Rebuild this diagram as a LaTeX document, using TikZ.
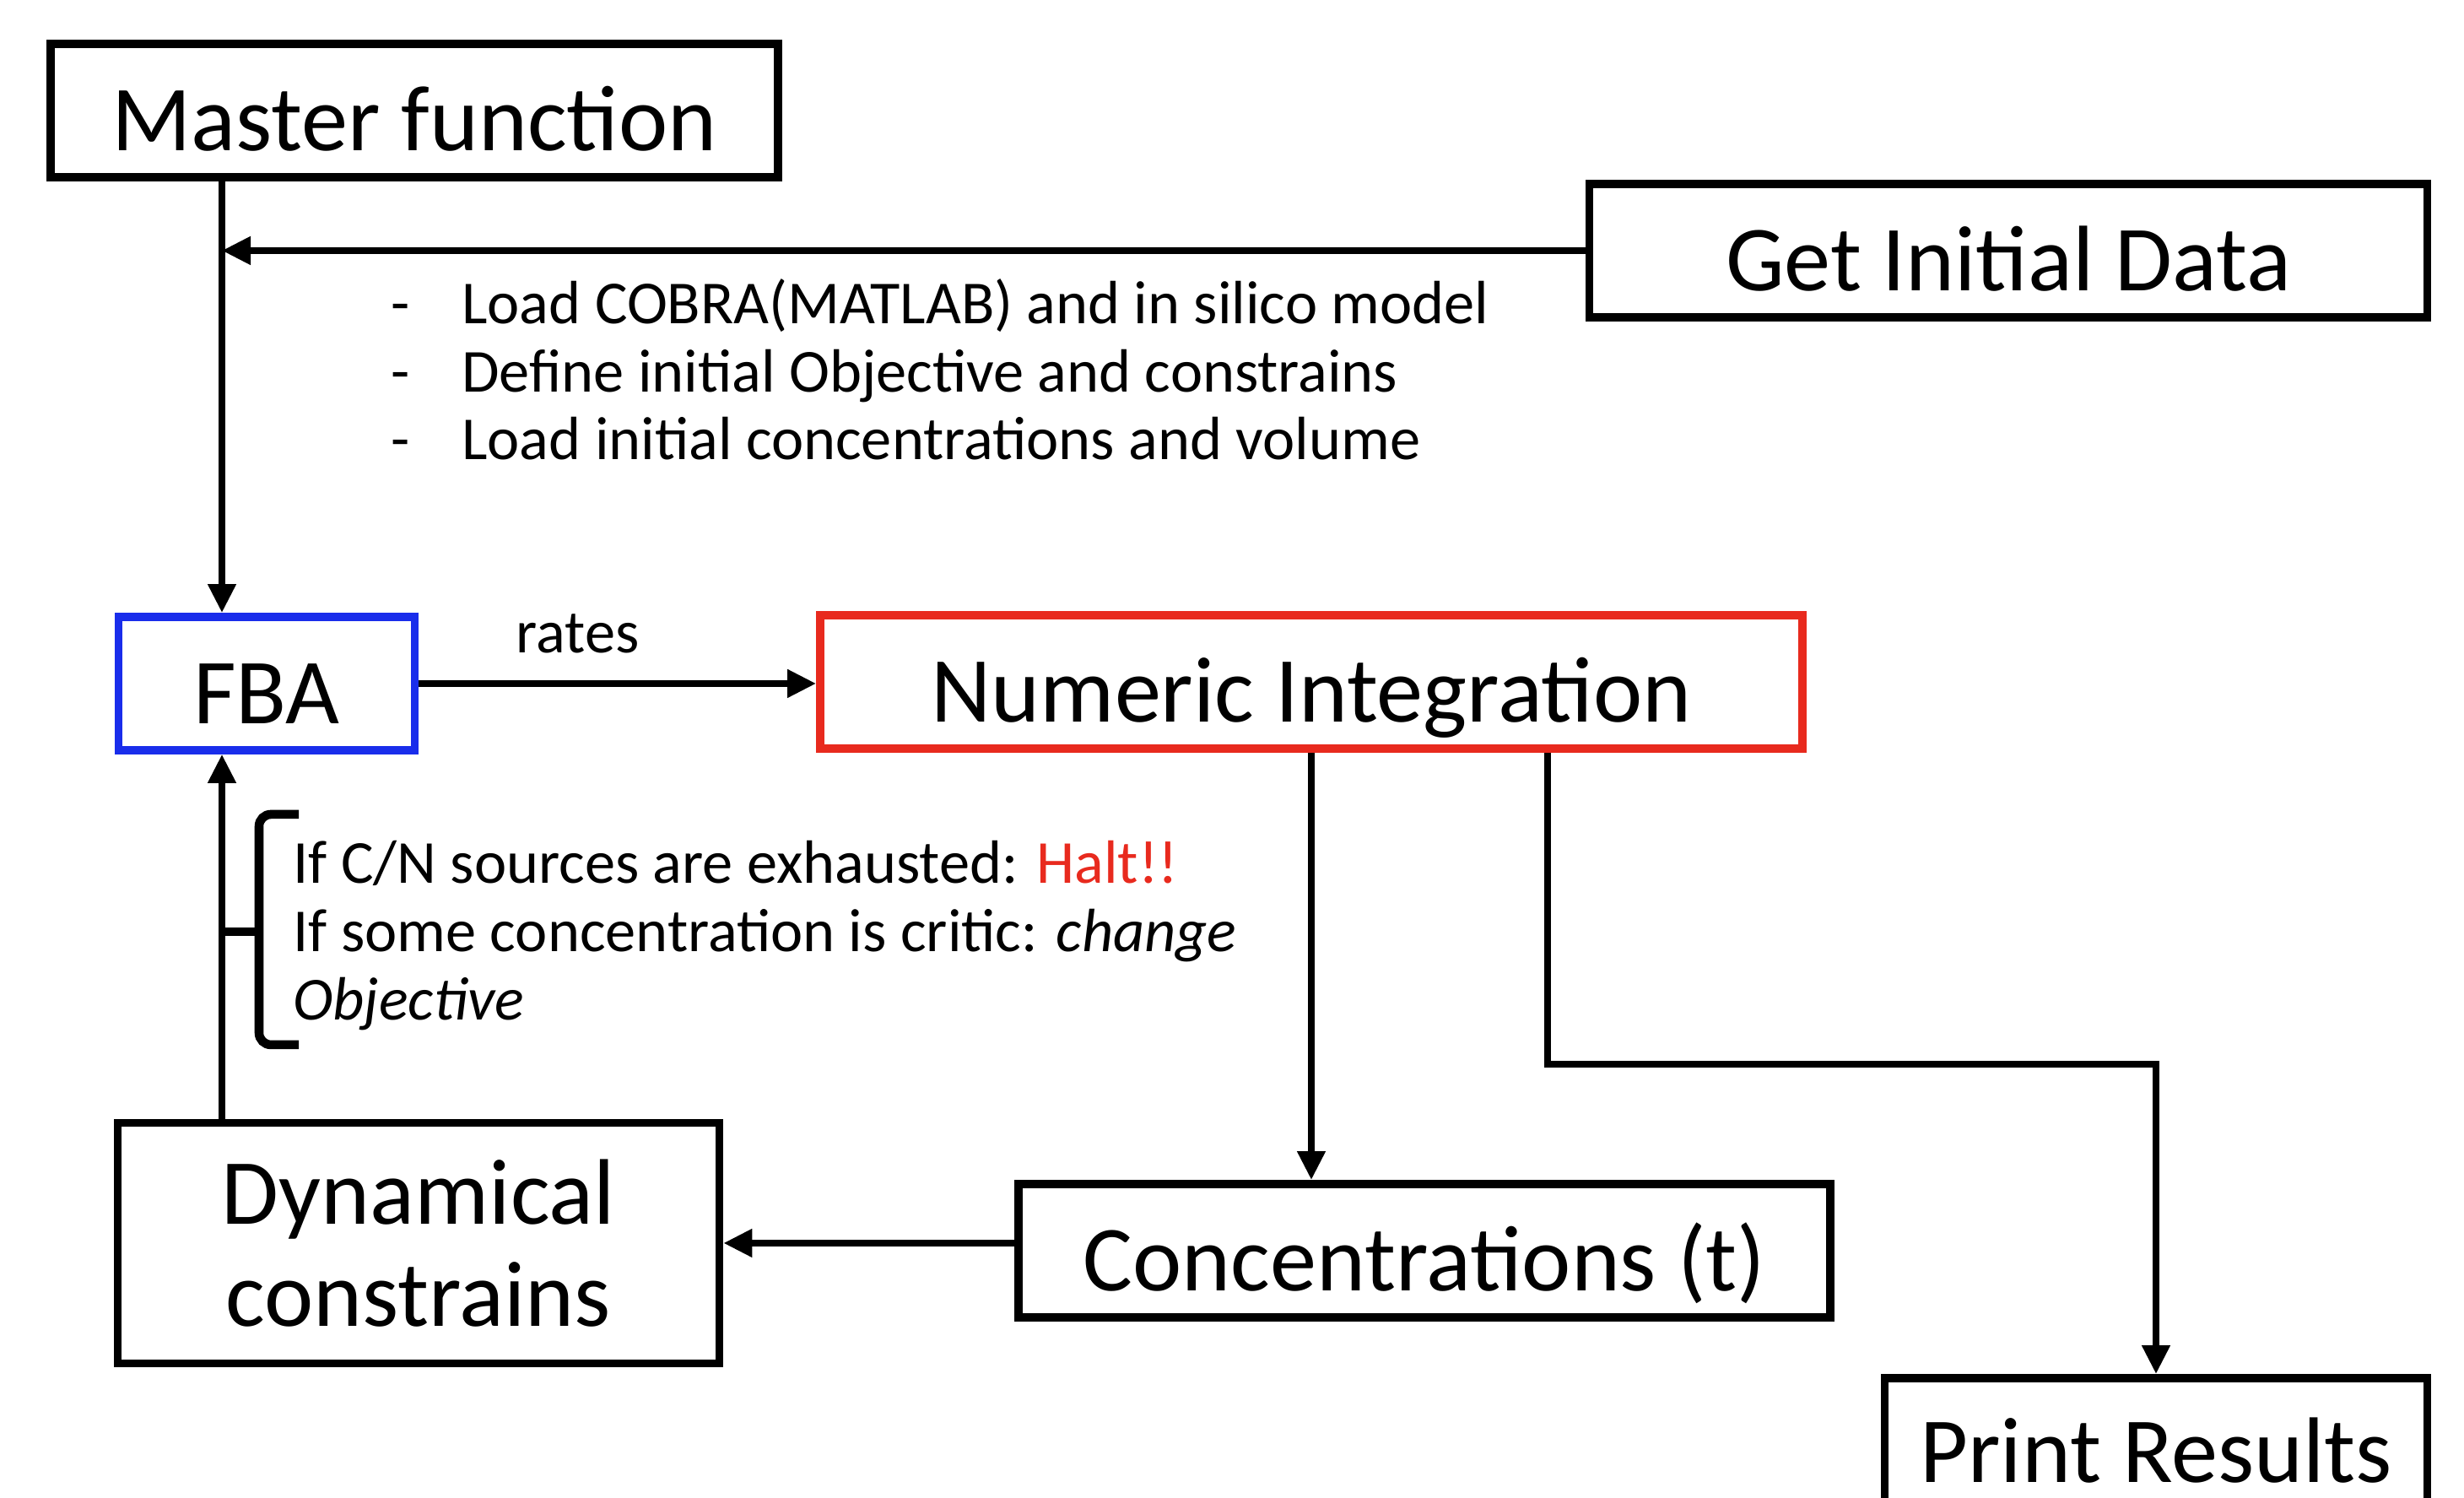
\documentclass[tikz,border=0pt]{standalone}
\usepackage{fontspec}
\setmainfont{Carlito}
\usetikzlibrary{arrows.meta,positioning,calc}
\definecolor{fbablue}{RGB}{25,45,235}
\definecolor{intred}{RGB}{232,42,30}

\begin{document}
\begin{tikzpicture}[
    frame/.style={rectangle, draw=black, line width=1.4pt, fill=white, inner sep=0pt,
                  minimum height=0.79cm, font=\fontsize{15.7}{17.2}\selectfont, align=center},
    box/.style={frame, text height=15pt, text depth=1.6pt},
    arrow/.style={-{Triangle[length=1.7mm,width=1.6mm]}, line width=1.1pt},
    note/.style={font=\fontsize{10.3}{11.5}\selectfont, align=left, inner sep=0pt}
]
\useasboundingbox (0,0) rectangle (14.6,8.875);

\node[box, minimum width=4.31cm] (master) at (2.455,8.22) {Master function};
\node[box, minimum width=4.965cm] (init) at (11.9,7.39) {Get Initial Data};
\node[box, draw=fbablue, minimum width=1.755cm] (fba) at (1.58,4.825) {FBA};
\node[box, draw=intred, minimum width=5.82cm] (numint) at (7.77,4.835) {Numeric Integration};
\node[box, minimum width=4.81cm] (conc) at (8.44,1.465) {Concentrations (t)};
\node[frame, minimum width=3.565cm, minimum height=1.425cm] (dyn) at (2.48,1.51) {Dynamical\\constrains};
\node[box, minimum width=3.215cm, minimum height=0.76cm] (print) at (12.775,0.33) {Print Results};

% helper points for the bent lines
\coordinate (spine) at (1.315,0);
\coordinate (turn) at (9.17,2.57);

\node[note, anchor=north west] (steps) at (2.31,7.23)
    {\makebox[0.42cm][l]{-}Load COBRA(MATLAB) and in silico model\\
     \makebox[0.42cm][l]{-}Define initial Objective and constrains\\
     \makebox[0.42cm][l]{-}Load initial concentrations and volume};

\node[note, anchor=north west] (rule) at (1.73,3.9)
    {If C/N sources are exhausted: \textcolor{intred}{Halt!!}\\
     If some concentration is critic: \textit{change}\\
     \textit{Objective}};

\draw[arrow] (master.south -| spine) -- (fba.north -| spine);
\draw[arrow] (init.west) -- (init.west -| spine);
\draw[arrow] (fba.east) -- node[note, above=4.5pt, pos=0.4] (rates) {rates} (fba.east -| numint.west);
\draw[arrow] (numint.south) -- (numint.south |- conc.north);
\draw[arrow] (numint.south -| turn) -- (turn) -| (print.north);
\draw[arrow] (conc.west |- dyn.east) -- (dyn.east);
\draw[arrow] (dyn.north -| spine) -- (fba.south -| spine);

% bracket
\draw[line width=1.5pt, rounded corners=2pt] (1.77,4.05) -- (1.535,4.05) -- (1.535,2.685) -- (1.77,2.685);
\draw[line width=1.5pt] (spine |- 0,3.355) -- (1.535,3.355);

\end{tikzpicture}
\end{document}
